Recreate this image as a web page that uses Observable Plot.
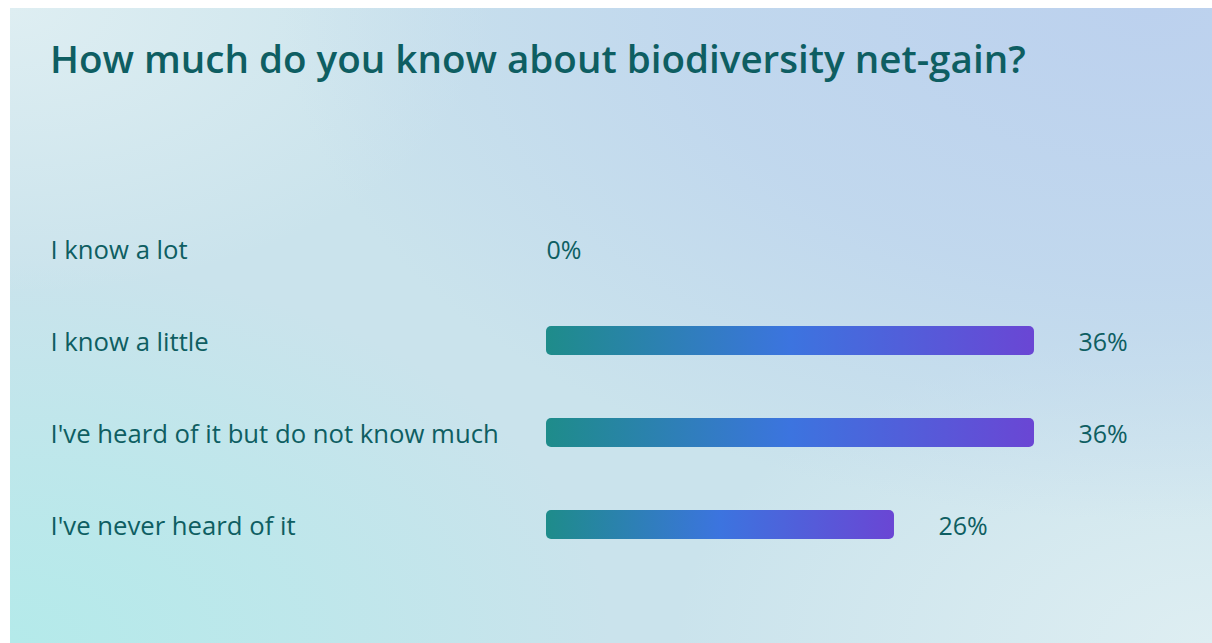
<!DOCTYPE html>
<html>
<head>
<meta charset="utf-8">
<script src="https://cdn.jsdelivr.net/npm/d3@7"></script>
<script src="https://cdn.jsdelivr.net/npm/@observablehq/plot@0.6"></script>
<style>
  html, body { margin: 0; padding: 0; background: #ffffff; }
  #panel {
    position: absolute; left: 10px; top: 8px; width: 1202px; height: 635px; overflow: hidden;
    background:
      radial-gradient(ellipse 85% 95% at 95% 0%, rgba(188,209,238,1) 0%, rgba(190,212,238,0.75) 45%, rgba(190,212,238,0) 85%),
      radial-gradient(ellipse 50% 60% at 0% 100%, rgba(180,234,234,1) 0%, rgba(180,234,234,0.55) 50%, rgba(180,234,234,0) 100%),
      radial-gradient(ellipse 45% 50% at 100% 100%, rgba(222,238,242,1) 0%, rgba(222,238,242,0) 100%),
      radial-gradient(ellipse 40% 45% at 0% 0%, rgba(222,238,242,1) 0%, rgba(222,238,242,0) 100%),
      #cae3ec;
    font-family: "Open Sans", sans-serif;
  }
  #title {
    position: absolute; left: 40px; top: 25px; margin: 0;
    font-size: 38.6px; font-weight: 600; color: #0e5e62; white-space: nowrap; line-height: 1.3;
  }
  #chart { position: absolute; left: 0; top: 92px; }
</style>
</head>
<body>
<div id="panel">
  <h1 id="title">How much do you know about biodiversity net-gain?</h1>
  <div id="chart"></div>
</div>
<script>
const categories = ["I know a lot", "I know a little", "I've heard of it but do not know much", "I've never heard of it"];
const percentages = [0, 35.9, 35.9, 25.6];

const rows = categories.map((c, i) => ({category: c, value: percentages[i]}));
const textColor = "#0e5e62";

const plot = Plot.plot({
  width: 1202,
  height: 543,
  marginLeft: 536,
  marginRight: 178,
  marginTop: 69,
  marginBottom: 40,
  style: {background: "transparent", fontFamily: "Open Sans, sans-serif", color: textColor},
  x: {domain: [0, 35.9], axis: null},
  y: {domain: categories, padding: 0.6865, axis: null},
  marks: [
    Plot.barX(rows.filter(d => d.value > 0), {x: "value", y: "category", fill: "url(#barGrad)", rx: 5}),
    Plot.text(categories, {y: d => d, frameAnchor: "left", textAnchor: "start", dx: -496, dy: 2, fontSize: 25.7, fontWeight: 500, fill: textColor, text: d => d}),
    Plot.text(rows.filter(d => d.value > 0), {x: "value", y: "category", text: d => Math.round(d.value) + "%", textAnchor: "start", dx: 44, dy: 2, fontSize: 25, fontWeight: 500, fill: textColor}),
    Plot.text(rows.filter(d => d.value === 0), {x: "value", y: "category", text: d => Math.round(d.value) + "%", textAnchor: "start", dy: 2, fontSize: 25, fontWeight: 500, fill: textColor})
  ]
});

const defs = d3.select(plot).insert("defs", ":first-child");
const g = defs.append("linearGradient").attr("id", "barGrad").attr("x1", "0%").attr("x2", "100%").attr("y1", "0%").attr("y2", "0%");
g.append("stop").attr("offset", "0%").attr("stop-color", "#1e8c8a");
g.append("stop").attr("offset", "50%").attr("stop-color", "#3c74df");
g.append("stop").attr("offset", "100%").attr("stop-color", "#6a46d4");

document.getElementById("chart").appendChild(plot);
</script>
</body>
</html>
